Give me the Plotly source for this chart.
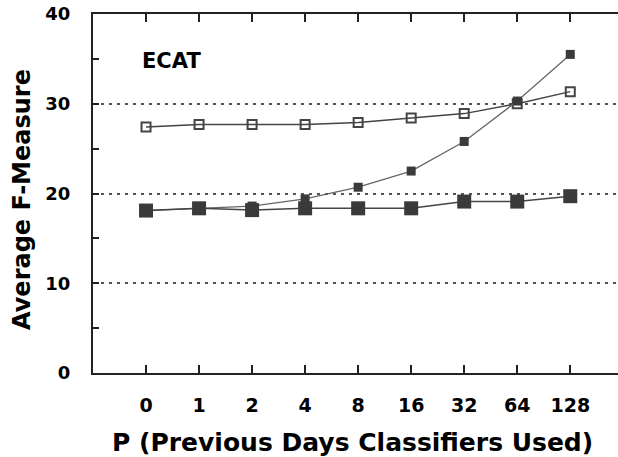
import plotly.graph_objects as go

categories = ["0", "1", "2", "4", "8", "16", "32", "64", "128"]
open_vals = [27.4, 27.7, 27.7, 27.7, 27.9, 28.4, 28.9, 30.0, 31.35]
square_vals = [18.1, 18.35, 18.15, 18.35, 18.35, 18.35, 19.1, 19.1, 19.7]
rising_vals = [18.1, 18.35, 18.6, 19.4, 20.7, 22.5, 25.8, 30.3, 35.5]

FONT = "DejaVu Sans"
idx = list(range(len(categories)))

fig = go.Figure()
fig.add_trace(go.Scatter(
    x=idx, y=open_vals, mode="lines+markers",
    line=dict(color="#444444", width=1.5),
    marker=dict(symbol="square-open", size=9, color="#444444", line=dict(width=2, color="#444444")),
    showlegend=False))
fig.add_trace(go.Scatter(
    x=idx, y=rising_vals, mode="lines+markers",
    line=dict(color="#666666", width=1.3),
    marker=dict(symbol="square", size=9, color="#3a3a3a"),
    showlegend=False))
fig.add_trace(go.Scatter(
    x=idx, y=square_vals, mode="lines+markers",
    line=dict(color="#444444", width=1.5),
    marker=dict(symbol="square", size=14, color="#3a3a3a"),
    showlegend=False))

FW, FH = 618, 457
PL, PR, PT, PB = 93, 618, 14, 373
W, H = PR - PL, PB - PT

fig.update_layout(
    width=FW, height=FH,
    margin=dict(l=PL, r=FW - PR, t=PT, b=FH - PB, pad=0),
    paper_bgcolor="white", plot_bgcolor="white",
    font=dict(family=FONT, size=19, color="black"),
    hovermode=False,
    xaxis=dict(
        range=[-1, 8.9], tickmode="array", tickvals=idx, ticktext=categories,
        showline=True, linecolor="#222222", linewidth=2, mirror="ticks",
        ticks="inside", ticklen=8, tickwidth=2, tickcolor="#222222",
        showgrid=False, zeroline=False, automargin=False,
        tickfont=dict(family=FONT, size=19, color="black", weight="bold"),
        ticklabelstandoff=14, ticklabeloverflow="allow",
    ),
    yaxis=dict(
        range=[0, 40], tickmode="linear", tick0=0, dtick=10,
        showline=True, linecolor="#222222", linewidth=2, mirror=False,
        ticks="inside", ticklen=6, tickwidth=2, tickcolor="#222222",
        minor=dict(dtick=5, ticks="inside", ticklen=6, tickwidth=2, tickcolor="#222222", showgrid=False),
        showgrid=True, gridcolor="#555555", gridwidth=2, griddash="3px,5px",
        zeroline=False, automargin=False,
        tickfont=dict(family=FONT, size=18, color="black", weight="bold"),
        ticklabelstandoff=17, ticklabeloverflow="allow",
    ),
    annotations=[
        dict(text="<b>ECAT</b>", xref="paper", yref="paper",
             x=(171 - PL) / W, y=(PB - 61) / H,
             xanchor="center", yanchor="middle",
             showarrow=False, font=dict(family=FONT, size=21, color="black")),
        dict(text="<b>Average F-Measure</b>", xref="paper", yref="paper",
             x=(22 - PL) / W, y=(PB - 200) / H, textangle=-90,
             xanchor="center", yanchor="middle", showarrow=False,
             font=dict(family=FONT, size=24, color="black")),
        dict(text="<b>P (Previous Days Classifiers Used)</b>", xref="paper", yref="paper",
             x=(352 - PL) / W, y=(PB - 442) / H,
             xanchor="center", yanchor="middle", showarrow=False,
             font=dict(family=FONT, size=25, color="black")),
    ],
)

fig.write_html(
    "out.html",
    config={"displayModeBar": False},
    post_script="document.body.style.margin='0';document.body.style.overflow='hidden';",
)
